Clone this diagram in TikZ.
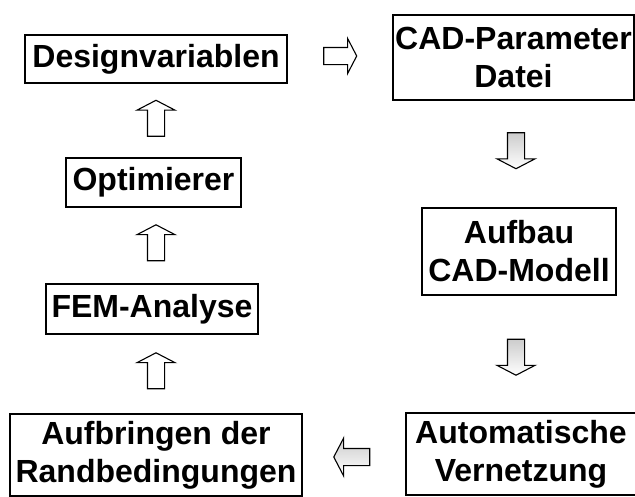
\documentclass[tikz,border=0pt]{standalone}
\usepackage{fontspec}
\setmainfont{Liberation Sans}
\usetikzlibrary{shapes.arrows,calc}
\begin{document}
\begin{tikzpicture}[x=1pt,y=-1pt,
  box/.style={draw, line width=1.5pt, inner sep=0pt, align=center,
    font=\bfseries\fontsize{32}{38}\selectfont},
  blk/.style={single arrow, draw, line width=1.1pt, inner sep=8pt,
    single arrow head extend=10.5pt, single arrow tip angle=125,
    minimum height=36pt, fill=white},
  gblk/.style={blk, top color=gray!40, bottom color=white}]
\useasboundingbox (0,0) rectangle (635,496);
\fill[white] (0,0) rectangle (635,496);
% boxes
\node[box, minimum width=262pt, minimum height=48pt] (des) at (156,59) {Designvariablen};
\node[box, minimum width=241pt, minimum height=85pt] (cad) at (513.5,57.5) {CAD-Parameter\\Datei};
\node[box, minimum width=175pt, minimum height=49pt] (opt) at (153.5,182.5) {Optimierer};
\node[box, minimum width=194pt, minimum height=87pt] (auf) at (519,251.5) {Aufbau\\CAD-Modell};
\node[box, minimum width=212pt, minimum height=50pt] (fem) at (152,309) {FEM-Analyse};
\node[box, minimum width=292pt, minimum height=82pt] (rand) at (156,455) {Aufbringen der\\Randbedingungen};
\node[box, minimum width=230pt, minimum height=82pt] (vern) at (521,454) {Automatische\\Vernetzung};
% block arrows
\node[blk, minimum height=33pt, inner sep=8pt, single arrow head extend=9pt] (a1) at (338,56) {};
\node[gblk, shape border rotate=270] (a2) at (516,148.5) {};
\node[gblk, shape border rotate=270] (a3) at (516,355) {};
\node[gblk, shape border rotate=180] (a4) at (354,457) {};
\node[blk, shape border rotate=90] (a5) at (156,373) {};
\node[blk, shape border rotate=90] (a6) at (156,245) {};
\node[blk, shape border rotate=90] (a7) at (156,120.5) {};
\end{tikzpicture}
\end{document}
